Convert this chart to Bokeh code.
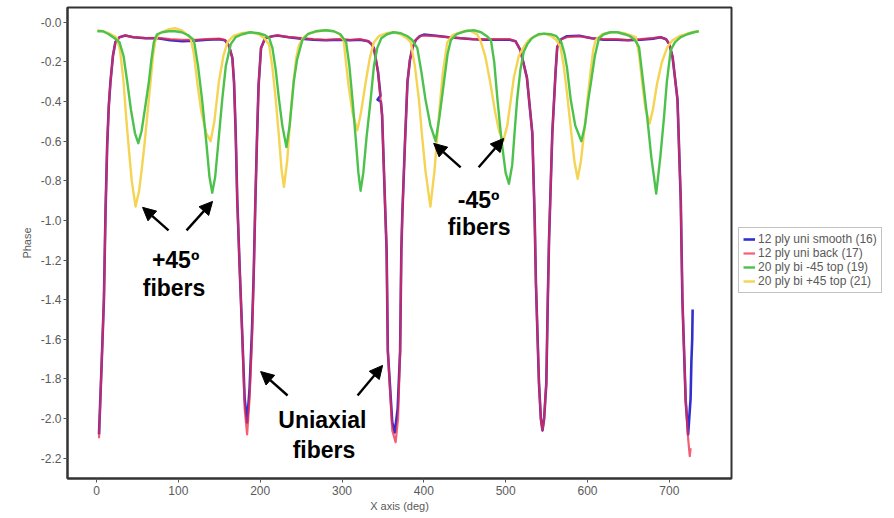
from bokeh.plotting import figure
from bokeh.models import Range1d, FixedTicker, Legend, LegendItem, Arrow, NormalHead, ColumnDataSource
from bokeh.embed import file_html
from bokeh.resources import INLINE
from bokeh.core.properties import value

# ---- phase traces (angle in degrees, phase) ----
uni_back_x = [3, 6, 9, 11, 13, 15, 17, 20, 23, 28, 35, 45, 60, 75, 90, 105, 120, 135, 150, 157,
              162, 166, 168, 170, 172, 175, 178, 181, 184, 187, 190, 192, 194, 196, 198, 201, 206, 215, 221,
              235, 250, 265, 280, 295, 310, 322, 332, 336, 339, 344, 349, 353, 354.5, 356, 361.4, 365.5,
              368.5, 371, 372.5, 373.7, 377, 380, 383, 386, 390, 395, 400,
              415, 430, 445, 460, 475, 490, 505, 512, 518, 526, 532.6, 535.5, 537, 540.7, 543, 545,
              547, 549.7, 551.5, 553, 557, 561, 563, 568, 575,
              590, 605, 620, 635, 649, 665, 680, 689.5, 696, 700, 704, 710, 714, 716, 720, 723, 725, 726]
uni_back_y = [-2.10, -1.75, -1.40, -0.95, -0.62, -0.42, -0.30, -0.17, -0.10, -0.075, -0.066, -0.075, -0.08, -0.078, -0.085, -0.088, -0.088, -0.085, -0.082, -0.09,
              -0.12, -0.18, -0.30, -0.55, -0.90, -1.25, -1.57, -1.95, -2.08, -1.90, -1.60, -1.30, -0.92, -0.60, -0.32, -0.13, -0.08, -0.07, -0.066,
              -0.075, -0.08, -0.085, -0.088, -0.085, -0.088, -0.085, -0.095, -0.11, -0.13, -0.25, -0.47, -0.97, -1.15, -1.66, -2.06, -2.12,
              -2.00, -1.66, -1.15, -0.97, -0.60, -0.30, -0.19, -0.13, -0.09, -0.07, -0.066,
              -0.07, -0.075, -0.08, -0.085, -0.085, -0.085, -0.085, -0.095, -0.14, -0.28, -0.56, -1.00, -1.32, -1.82, -2.00, -2.06,
              -2.00, -1.82, -1.40, -1.10, -0.56, -0.25, -0.125, -0.085, -0.075,
              -0.07, -0.08, -0.085, -0.085, -0.09, -0.085, -0.08, -0.075, -0.085, -0.11, -0.175, -0.39, -0.90, -1.40, -1.91, -2.10, -2.19, -2.15]

uni_smooth_x = [3, 6, 9, 11, 13, 15, 17, 20, 23, 28, 35, 45, 60, 75, 90, 105, 120, 135, 150, 157,
                162, 166, 168, 170, 172, 175, 178, 181, 184, 187, 190, 192, 194, 196, 198, 201, 206, 215, 221,
                235, 250, 265, 280, 295, 310, 322, 332, 336, 339, 344, 347, 343.5, 347.5, 349, 353, 354.5, 356, 361.4, 364.5,
                368, 371, 372.5, 373.7, 377, 380, 383, 386, 390, 395, 400,
                415, 430, 445, 460, 475, 490, 505, 512, 518, 526, 532.6, 535.5, 537, 540.7, 543, 545,
                547, 549.7, 551.5, 553, 557, 561, 563, 568, 575,
                590, 605, 620, 635, 649, 665, 680, 689.5, 696, 700, 704, 710, 714, 716, 720, 723, 726, 727, 728, 728.5]
uni_smooth_y = [-2.08, -1.75, -1.40, -0.95, -0.62, -0.42, -0.30, -0.17, -0.10, -0.075, -0.066, -0.075, -0.08, -0.08, -0.09, -0.095, -0.092, -0.088, -0.085, -0.09,
                -0.12, -0.18, -0.30, -0.55, -0.90, -1.25, -1.57, -1.90, -2.02, -1.85, -1.55, -1.28, -0.92, -0.60, -0.32, -0.13, -0.08, -0.07, -0.066,
                -0.075, -0.082, -0.088, -0.09, -0.088, -0.09, -0.088, -0.095, -0.11, -0.13, -0.25, -0.37, -0.39, -0.40, -0.47, -0.97, -1.15, -1.66, -2.02, -2.07,
                -1.95, -1.66, -1.15, -0.97, -0.60, -0.30, -0.19, -0.13, -0.09, -0.07, -0.062,
                -0.068, -0.075, -0.08, -0.085, -0.088, -0.088, -0.088, -0.095, -0.14, -0.28, -0.56, -1.00, -1.32, -1.82, -2.00, -2.06,
                -2.00, -1.82, -1.40, -1.10, -0.56, -0.25, -0.125, -0.085, -0.07,
                -0.068, -0.08, -0.088, -0.088, -0.09, -0.088, -0.082, -0.075, -0.085, -0.11, -0.175, -0.39, -0.90, -1.40, -1.91, -2.08, -1.90, -1.71, -1.60, -1.45]

bi_minus_x = [1, 8, 15, 22, 28, 33, 37.5, 42, 47, 51, 55, 59, 64, 67, 70, 74, 80, 88, 96, 104, 112, 119,
              124, 129, 134, 138, 141.4, 145, 149, 153.6, 158, 164, 170, 178, 188, 198, 206, 211, 215,
              219, 223, 227, 232, 236, 241, 245, 251.5, 258, 268, 280, 290, 298, 305,
              309, 313, 317, 320, 322.7, 326, 330, 335, 339, 343, 348, 355, 363, 372, 380, 386, 392,
              397, 402, 408, 414.4, 419, 424.6, 429, 433, 440, 450, 461, 470, 477, 482,
              486, 490, 495, 500, 504, 508, 511, 514, 518, 522, 526.5, 532, 540, 547, 555, 562, 568, 572,
              575, 579.5, 585, 592.5, 597, 601, 604, 609, 614, 620, 628, 636.5, 645, 652, 658, 663,
              668, 673, 678, 684, 689, 693.5, 697, 701.7, 707, 714, 722, 730, 736]
bi_minus_y = [-0.045, -0.045, -0.06, -0.08, -0.10, -0.17, -0.30, -0.44, -0.56, -0.61, -0.55, -0.44, -0.30, -0.19, -0.10, -0.06, -0.05, -0.045, -0.045, -0.05, -0.065, -0.09,
              -0.22, -0.39, -0.60, -0.78, -0.86, -0.78, -0.60, -0.39, -0.22, -0.11, -0.075, -0.06, -0.05, -0.055, -0.065, -0.08, -0.13,
              -0.24, -0.39, -0.52, -0.63, -0.52, -0.30, -0.19, -0.09, -0.06, -0.045, -0.04, -0.045, -0.06, -0.10,
              -0.22, -0.40, -0.60, -0.76, -0.85, -0.76, -0.58, -0.39, -0.22, -0.13, -0.08, -0.06, -0.05, -0.055, -0.07, -0.09, -0.13,
              -0.25, -0.39, -0.52, -0.60, -0.48, -0.30, -0.16, -0.09, -0.06, -0.045, -0.04, -0.05, -0.07, -0.09,
              -0.20, -0.39, -0.60, -0.76, -0.815, -0.72, -0.55, -0.39, -0.24, -0.15, -0.11, -0.08, -0.06, -0.057, -0.06, -0.07, -0.10, -0.16,
              -0.23, -0.39, -0.52, -0.60, -0.52, -0.39, -0.31, -0.17, -0.08, -0.06, -0.05, -0.05, -0.06, -0.07, -0.09, -0.125,
              -0.30, -0.48, -0.68, -0.865, -0.68, -0.48, -0.30, -0.14, -0.10, -0.075, -0.06, -0.05, -0.045]

bi_plus_x = [1, 8, 15, 22, 25, 29, 33, 36, 39.5, 43, 47.7, 52, 55, 58, 62, 66, 69, 72, 76, 80, 88, 96.6, 104, 110, 115,
             119, 123, 128, 134, 139.4, 144, 149.5, 155, 160, 167, 177, 188, 198, 205, 210.7,
             215, 219, 223, 226, 229, 233, 237, 241, 244, 247, 252, 260, 270, 280, 290, 297, 302,
             304, 308, 313, 318.7, 323, 329, 334, 339, 345, 354, 363.5, 372, 379, 384,
             389, 394, 398, 402, 408, 413, 418.5, 423, 428.7, 435, 445, 455, 465, 469,
             475, 481, 487, 492, 497, 502, 506, 510, 516, 522, 528, 535, 547, 556, 562, 567,
             571, 575, 580, 584, 588, 592, 596, 600, 604, 607, 610, 618, 628, 636.5, 645, 652, 659,
             663, 667, 671, 676, 680, 685, 691, 697.6, 704, 712, 720, 728, 736]
bi_plus_y = [-0.04, -0.045, -0.055, -0.07, -0.08, -0.15, -0.30, -0.47, -0.64, -0.80, -0.93, -0.85, -0.75, -0.64, -0.47, -0.30, -0.17, -0.09, -0.06, -0.05, -0.035, -0.03, -0.04, -0.06, -0.08,
             -0.16, -0.30, -0.45, -0.56, -0.60, -0.50, -0.30, -0.17, -0.10, -0.07, -0.055, -0.05, -0.06, -0.08, -0.11,
             -0.23, -0.39, -0.58, -0.74, -0.83, -0.70, -0.47, -0.29, -0.18, -0.12, -0.08, -0.055, -0.045, -0.04, -0.045, -0.06, -0.09,
             -0.17, -0.32, -0.46, -0.545, -0.46, -0.30, -0.18, -0.10, -0.07, -0.055, -0.05, -0.06, -0.08, -0.10,
             -0.22, -0.39, -0.58, -0.75, -0.93, -0.75, -0.47, -0.26, -0.10, -0.065, -0.05, -0.04, -0.06, -0.09,
             -0.17, -0.30, -0.45, -0.55, -0.60, -0.52, -0.40, -0.28, -0.17, -0.125, -0.09, -0.07, -0.057, -0.07, -0.09, -0.125,
             -0.22, -0.36, -0.55, -0.70, -0.79, -0.70, -0.55, -0.39, -0.24, -0.14, -0.09, -0.06, -0.05, -0.05, -0.055, -0.065, -0.075,
             -0.16, -0.31, -0.44, -0.51, -0.44, -0.31, -0.20, -0.125, -0.09, -0.07, -0.06, -0.05, -0.045]

series_names = ["12 ply uni smooth (16)", "12 ply uni back (17)", "20 ply bi -45 top (19)", "20 ply bi +45 top (21)"]

x_ticks = [0, 100, 200, 300, 400, 500, 600, 700]
y_ticks = [-2.2, -2.0, -1.8, -1.6, -1.4, -1.2, -1.0, -0.8, -0.6, -0.4, -0.2, 0.0]
y_tick_labels = ["-2.2", "-2.0", "-1.8", "-1.6", "-1.4", "-1.2", "-1.0", "-0.8", "-0.6", "-0.4", "-0.2", "-0.0"]

# callouts: text lines and arrows (data coordinates)
note_text = ["+45º", "fibers", "Uniaxial", "fibers", "-45º", "fibers"]
note_x = [96.6, 94.7, 276, 278, 467, 467.6]
note_y = [-1.20, -1.343, -2.01, -2.157, -0.899, -1.035]
arrow_x0 = [88, 110, 233.5, 319, 445, 467]
arrow_y0 = [-1.05, -1.05, -1.884, -1.884, -0.732, -0.732]
arrow_x1 = [56.2, 141.8, 200.5, 349.6, 412, 497.6]
arrow_y1 = [-0.934, -0.904, -1.763, -1.732, -0.611, -0.586]

FONT = "Liberation Sans"
GREY = "#5a5a5a"

p = figure(frame_width=664, frame_height=471, output_backend="svg", toolbar_location=None,
           x_range=Range1d(-35.5, 776), y_range=Range1d(-2.303, 0.075),
           min_border_left=67, min_border_right=163, min_border_top=7, min_border_bottom=40,
           background_fill_color="white", border_fill_color="white")
p.grid.visible = False
p.outline_line_color = "#333333"
p.outline_line_width = 2

r_blue = p.line(uni_smooth_x, uni_smooth_y, line_color="#3030d0", line_width=2.6, line_join="round")
r_red = p.line(uni_back_x, uni_back_y, line_color="#f0284a", line_width=2.2, line_alpha=0.75, line_join="round")
r_yellow = p.line(bi_plus_x, bi_plus_y, line_color="#f4d452", line_width=2.4, line_join="round")
r_green = p.line(bi_minus_x, bi_minus_y, line_color="#4cc24c", line_width=2.4, line_join="round")

for ax in (p.xaxis[0], p.yaxis[0]):
    ax.axis_line_color = "#333333"
    ax.axis_line_width = 2
    ax.major_tick_line_color = "#555555"
    ax.major_tick_out = 4
    ax.major_tick_in = 0
    ax.minor_tick_out = 0
    ax.minor_tick_in = 0
    ax.major_label_text_font = FONT
    ax.major_label_text_font_size = "12px"
    ax.major_label_text_color = GREY
    ax.axis_label_text_font = FONT
    ax.axis_label_text_font_size = "11px"
    ax.axis_label_text_font_style = "normal"
    ax.axis_label_text_color = GREY

p.xaxis.ticker = FixedTicker(ticks=x_ticks)
p.yaxis.ticker = FixedTicker(ticks=y_ticks)
p.yaxis.major_label_overrides = {t: s for t, s in zip(y_ticks, y_tick_labels)}
p.xaxis.axis_label = "X axis (deg)"
p.yaxis.axis_label = "Phase"
p.xaxis.major_label_standoff = 3
p.yaxis.major_label_standoff = 2
p.xaxis.axis_label_standoff = 2
p.yaxis.axis_label_standoff = 5

notes = ColumnDataSource(dict(x=note_x, y=note_y, t=note_text))
p.text(x="x", y="y", text="t", source=notes, text_font=value(FONT), text_font_style="bold",
       text_font_size="23px", text_color="black", text_align="center", text_baseline="middle")

for xs, ys, xe, ye in zip(arrow_x0, arrow_y0, arrow_x1, arrow_y1):
    p.add_layout(Arrow(end=NormalHead(size=13, fill_color="black", line_color="black"),
                       x_start=xs, y_start=ys, x_end=xe, y_end=ye,
                       line_color="black", line_width=2.4))

legend = Legend(items=[LegendItem(label=n, renderers=[r]) for n, r in
                       zip(series_names, [r_blue, r_red, r_green, r_yellow])],
                location=(7, 185))
legend.label_text_font = FONT
legend.label_text_font_size = "12px"
legend.label_text_color = GREY
legend.border_line_color = "#888888"
legend.border_line_width = 1
legend.background_fill_color = "white"
legend.glyph_width = 12
legend.glyph_height = 12
legend.label_height = 12
legend.label_standoff = 3
legend.spacing = 0
legend.padding = 4
legend.margin = 0
p.add_layout(legend, "right")

open("out.html", "w").write(file_html(p, INLINE))
